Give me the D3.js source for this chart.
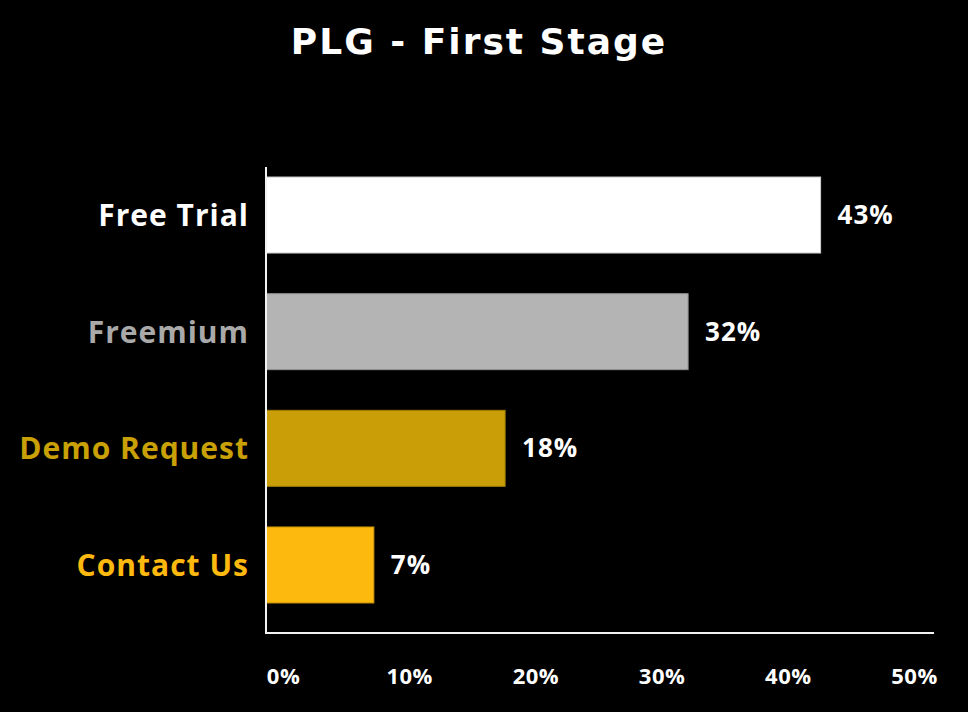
<!DOCTYPE html>
<html>
<head>
<meta charset="utf-8">
<script src="https://cdn.jsdelivr.net/npm/d3@7"></script>
<style>
  html, body { margin: 0; padding: 0; background: #000; }
  svg { display: block; }
  text { font-family: "Open Sans", "DejaVu Sans", sans-serif; font-weight: 700; }
</style>
</head>
<body>
<svg id="chart" width="968" height="712"></svg>
<script>
const title = "PLG - First Stage";
const categories = ["Free Trial", "Freemium", "Demo Request", "Contact Us"];
const values = [42.6, 32.1, 17.6, 7.2];
const barColors = ["#ffffff", "#b4b4b4", "#ca9e06", "#fdb90e"];
const labelColors = ["#ffffff", "#a9a9a9", "#c9a005", "#fdb90e"];
const ticks = [0, 10, 20, 30, 40, 50];

const svg = d3.select("#chart");
const W = 968, H = 712;
svg.append("rect").attr("width", W).attr("height", H).attr("fill", "#000");

const plotLeft = 266, plotRight = 934, plotTop = 167, plotBottom = 633;

const x = d3.scaleLinear().domain([0, 50]).range([283, 914]);
const y = d3.scaleBand().domain(categories).range([156.7, 623.3]).paddingInner(0.3486).paddingOuter(0.1743);

// title
svg.append("text")
  .attr("x", 479).attr("y", 54)
  .attr("text-anchor", "middle")
  .attr("fill", "#fff")
  .style("font-family", '"DejaVu Sans", sans-serif')
  .style("font-size", "36px")
  .style("letter-spacing", "2px")
  .text(title);

const data = categories.map((c, i) => ({ c, v: values[i], bar: barColors[i], lab: labelColors[i] }));

// bars
svg.selectAll("rect.bar").data(data).enter().append("rect")
  .attr("class", "bar")
  .attr("x", plotLeft)
  .attr("y", d => y(d.c))
  .attr("width", d => x(d.v) - plotLeft)
  .attr("height", y.bandwidth())
  .attr("fill", d => d.bar)
  .attr("stroke", d => d3.color(d.bar).darker(0.6))
  .attr("stroke-width", 1);

// category labels
svg.selectAll("text.cat").data(data).enter().append("text")
  .attr("class", "cat")
  .attr("x", 249)
  .attr("y", d => y(d.c) + y.bandwidth() / 2 + 11)
  .attr("text-anchor", "end")
  .attr("fill", d => d.lab)
  .style("font-size", "30px")
  .style("letter-spacing", "1px")
  .text(d => d.c);

// value labels
const fmt = d3.format(".0f");
svg.selectAll("text.val").data(data).enter().append("text")
  .attr("class", "val")
  .attr("x", d => x(d.v) + 17)
  .attr("y", d => y(d.c) + y.bandwidth() / 2 + 9)
  .attr("fill", "#fff")
  .style("font-size", "26px")
  .style("letter-spacing", "1px")
  .text(d => fmt(d.v) + "%");

// axes lines
svg.append("line")
  .attr("x1", plotLeft).attr("x2", plotLeft)
  .attr("y1", plotTop).attr("y2", plotBottom)
  .attr("stroke", "#f2f2f2").attr("stroke-width", 2);
svg.append("line")
  .attr("x1", plotLeft - 1).attr("x2", plotRight)
  .attr("y1", plotBottom).attr("y2", plotBottom)
  .attr("stroke", "#f2f2f2").attr("stroke-width", 2);

// tick labels via d3 axis
const axis = d3.axisBottom(x).tickValues(ticks).tickFormat(d => d + "%").tickSize(0).tickPadding(0);
const gx = svg.append("g").attr("transform", `translate(0, ${plotBottom})`).call(axis);
gx.select(".domain").remove();
gx.selectAll("text")
  .attr("fill", "#fff")
  .attr("dy", null)
  .attr("y", 51)
  .style("font-size", "22px")
  .style("letter-spacing", "0.5px")
  .style("font-family", '"Open Sans", "DejaVu Sans", sans-serif')
  .style("font-weight", 700);
</script>
</body>
</html>
